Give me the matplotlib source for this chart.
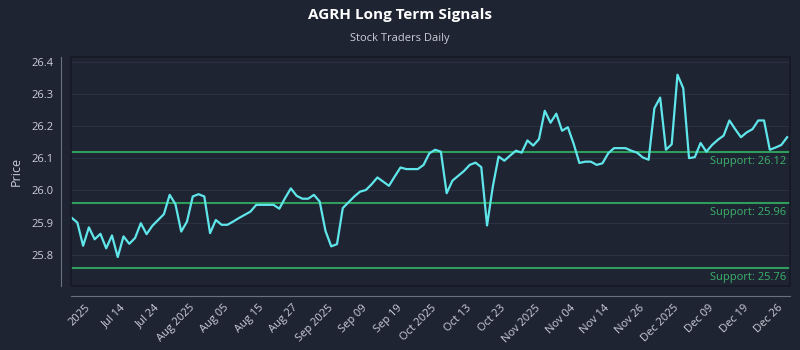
import matplotlib
matplotlib.use("Agg")
import matplotlib.pyplot as plt
from matplotlib.patches import Rectangle

# closing prices, one per trading day
prices = [
    25.915, 25.900, 25.828, 25.885, 25.848, 25.865, 25.820, 25.860, 25.793, 25.857,
    25.834, 25.852, 25.898, 25.864, 25.890, 25.908, 25.926, 25.986, 25.957, 25.872,
    25.903, 25.981, 25.988, 25.981, 25.867, 25.908, 25.893, 25.893, 25.903, 25.914,
    25.924, 25.934, 25.955, 25.955, 25.955, 25.955, 25.943, 25.976, 26.006, 25.983,
    25.974, 25.974, 25.986, 25.965, 25.874, 25.826, 25.833, 25.945, 25.963, 25.981,
    25.996, 26.001, 26.019, 26.040, 26.027, 26.014, 26.043, 26.071, 26.066, 26.066,
    26.066, 26.079, 26.115, 26.126, 26.120, 25.991, 26.030, 26.045, 26.060, 26.079,
    26.086, 26.072, 25.891, 26.012, 26.105, 26.092, 26.108, 26.123, 26.117, 26.155,
    26.139, 26.159, 26.247, 26.210, 26.238, 26.185, 26.196, 26.145, 26.085, 26.089,
    26.089, 26.079, 26.084, 26.115, 26.131, 26.131, 26.131, 26.123, 26.117, 26.102,
    26.095, 26.255, 26.288, 26.126, 26.143, 26.359, 26.317, 26.100, 26.103, 26.147,
    26.120, 26.141, 26.157, 26.170, 26.217, 26.190, 26.165, 26.180, 26.190, 26.217,
    26.217, 26.126, 26.133, 26.141, 26.165,
]
supports = [26.12, 25.96, 25.76]
tick_idx = list(range(3, 124, 6))
tick_labels = [
    "2025", "Jul 14", "Jul 24", "Aug 2025", "Aug 05", "Aug 15", "Aug 27",
    "Sep 2025", "Sep 09", "Sep 19", "Oct 2025", "Oct 13", "Oct 23", "Nov 2025",
    "Nov 04", "Nov 14", "Nov 26", "Dec 2025", "Dec 09", "Dec 19", "Dec 26",
]
y_ticks = [25.8, 25.9, 26.0, 26.1, 26.2, 26.3, 26.4]

BG = "#1f2433"
BORDER = "#161a25"
GRID = "#2a3142"
TEXT = "#c9ced8"
LINE = "#5fe6ea"
GREEN = "#2f9e5c"
GREEN_TXT = "#3bb36a"

plt.rcParams["font.family"] = ["Open Sans", "DejaVu Sans"]

fig = plt.figure(figsize=(8, 3.5), dpi=100, facecolor=BG)
ax = fig.add_axes([71 / 800, 64 / 350, 719 / 800, 229 / 350], facecolor=BG)

# spines first: set_position resets the tick objects
for side in ["top", "right"]:
    ax.spines[side].set_visible(False)
for side in ["left", "bottom"]:
    ax.spines[side].set_position(("outward", 7.5))
    ax.spines[side].set_color("#6b7080")
    ax.spines[side].set_linewidth(0.8)
ax.add_patch(Rectangle((0, 0), 1, 1, transform=ax.transAxes, fill=False,
                       edgecolor=BORDER, linewidth=1.2, clip_on=False, zorder=4))

x = list(range(len(prices)))
ax.plot(x, prices, color=LINE, linewidth=1.6, zorder=3)

for s in supports:
    ax.axhline(s, color=GREEN, linewidth=1.5, zorder=2)
    ax.annotate(f"Support: {s:.2f}", xy=(1, s), xycoords=("axes fraction", "data"),
                xytext=(-3, -3), textcoords="offset points", ha="right", va="top",
                color=GREEN_TXT, fontsize=8)

ax.set_xlim(-0.1, 124.5)
ax.set_ylim(25.703, 26.414)
ax.set_yticks(y_ticks)
ax.set_yticklabels([f"{v:.1f}" for v in y_ticks])
ax.set_xticks(tick_idx)
ax.set_xticklabels(tick_labels)
ax.grid(axis="y", color=GRID, linewidth=0.8)
ax.tick_params(axis="both", length=0, colors=TEXT, labelsize=8)
ax.tick_params(axis="x", pad=7)
ax.tick_params(axis="y", pad=5)
for lbl in ax.get_xticklabels():
    lbl.set_rotation(45)
    lbl.set_ha("right")
    lbl.set_va("center")
    lbl.set_rotation_mode("anchor")

ax.set_ylabel("Price", color=TEXT, fontsize=9, labelpad=6)

fig.text(0.5, 1 - 15 / 350, "AGRH Long Term Signals", ha="center", va="center",
         color="white", fontsize=11, fontweight="bold")
fig.text(0.5, 1 - 38 / 350, "Stock Traders Daily", ha="center", va="center",
         color=TEXT, fontsize=8)

fig.savefig("out.png", dpi=100, facecolor=BG)
